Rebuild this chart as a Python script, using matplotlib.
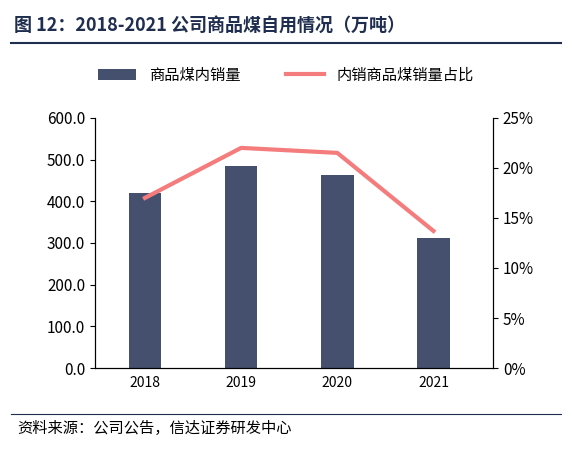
import matplotlib.pyplot as plt
import matplotlib.lines as mlines

plt.rcParams['font.family'] = ['Noto Sans CJK SC', 'DejaVu Sans']

years = ['2018', '2019', '2020', '2021']
internal_sales = [420, 485, 463, 313]      # 商品煤内销量 (万吨)
internal_ratio = [17.0, 22.0, 21.5, 13.7]  # 内销商品煤销量占比 (%)

fig = plt.figure(figsize=(5.72, 4.55), dpi=100)
ax = fig.add_axes([0.166, 0.191, 0.696, 0.55])
ax2 = ax.twinx()

x = range(len(years))
ax.bar(x, internal_sales, width=0.34, color='#44506e', label='商品煤内销量')
ax2.plot(x, internal_ratio, color='#f47c7c', lw=3, label='内销商品煤销量占比')

ax.set_ylim(0, 600)
ax.set_yticks(range(0, 601, 100))
ax.set_yticklabels([f'{v:.1f}' for v in range(0, 601, 100)])
ax2.set_ylim(0, 25)
ax2.set_yticks(range(0, 26, 5))
ax2.set_yticklabels([f'{v}%' for v in range(0, 26, 5)])
ax.set_xticks(list(x))
ax.set_xticklabels(years)
ax.set_xlim(-0.52, 3.62)
for a in (ax, ax2):
    a.spines['top'].set_visible(False)
    a.tick_params(labelsize=11, direction='out')
ax.tick_params(axis='x', length=0, labelsize=10, pad=6)

h1, l1 = ax.get_legend_handles_labels()
h2, l2 = ax2.get_legend_handles_labels()
fig.legend(h1 + h2, l1 + l2, loc='center', bbox_to_anchor=(0.5, 0.835), ncol=2,
           frameon=False, fontsize=11, columnspacing=3, handlelength=2.5)

fig.text(0.025, 0.945, '图 12：2018-2021 公司商品煤自用情况（万吨）', fontsize=13,
         fontweight='bold', color='#1f2d4e', va='center')
fig.add_artist(mlines.Line2D([0.02, 0.98], [0.905, 0.905], color='#1f2d4e', lw=1.5))
fig.add_artist(mlines.Line2D([0.02, 0.98], [0.09, 0.09], color='#1f2d4e', lw=0.8))
fig.text(0.03, 0.058, '资料来源：公司公告，信达证券研发中心', fontsize=11,
         style='italic', va='center')

fig.savefig('out.png', dpi=100)
